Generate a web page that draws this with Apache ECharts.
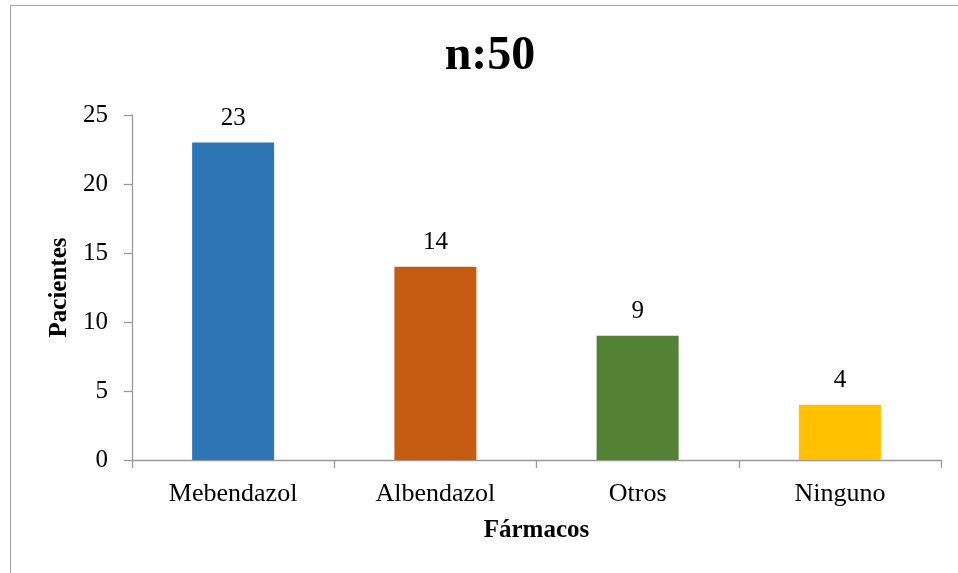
<!DOCTYPE html>
<html>
<head>
<meta charset="utf-8">
<script src="https://cdn.jsdelivr.net/npm/echarts@6/dist/echarts.min.js"></script>
<style>
html,body{margin:0;padding:0;background:#fff;overflow:hidden;}
#frame{position:absolute;left:10px;top:5px;width:980px;height:600px;border:1.5px solid #a6a6a6;box-sizing:border-box;}
#chart{position:absolute;left:0;top:0;width:958px;height:573px;}
</style>
</head>
<body>
<div id="frame"></div>
<div id="chart"></div>
<script>
const categories = ['Mebendazol', 'Albendazol', 'Otros', 'Ninguno'];
const values = [23, 14, 9, 4];
const barColors = ['#2E75B6', '#C55A11', '#548235', '#FFC000'];
const yTicks = [0, 5, 10, 15, 20, 25];

const chart = echarts.init(document.getElementById('chart'), null, {renderer: 'canvas'});
const font = '"Liberation Serif", "Times New Roman", serif';
chart.setOption({
  animation: false,
  title: {
    text: 'n:50',
    left: 485, top: 28,
    textAlign: 'center',
    textStyle: {fontFamily: font, fontWeight: 'bold', fontSize: 48, color: '#000'}
  },
  grid: {left: 132, right: 17, top: 115, bottom: 113, containLabel: false},
  xAxis: {
    type: 'category',
    data: categories,
    name: 'Fármacos',
    nameLocation: 'middle',
    nameGap: 58,
    nameTextStyle: {fontFamily: font, fontWeight: 'bold', fontSize: 25, color: '#000'},
    axisLine: {lineStyle: {color: '#999', width: 1.3}},
    axisTick: {show: true, length: 8, lineStyle: {color: '#999', width: 1.3}},
    axisLabel: {fontFamily: font, fontSize: 26, color: '#000', margin: 21}
  },
  yAxis: {
    type: 'value',
    min: yTicks[0], max: yTicks[yTicks.length - 1], interval: 5,
    name: 'Pacientes',
    nameLocation: 'middle',
    nameGap: 55,
    nameRotate: 90,
    nameTextStyle: {fontFamily: font, fontWeight: 'bold', fontSize: 25, color: '#000'},
    splitLine: {show: false},
    axisLine: {show: true, lineStyle: {color: '#999', width: 1.3}},
    axisTick: {show: true, length: 8, lineStyle: {color: '#999', width: 1.3}},
    axisLabel: {fontFamily: font, fontSize: 25, color: '#000', margin: 24}
  },
  series: [{
    type: 'bar',
    data: values.map((v, i) => ({value: v, itemStyle: {color: barColors[i]}})),
    barWidth: 82,
    label: {show: true, position: 'top', distance: 12, fontFamily: font, fontSize: 25, color: '#000'}
  }]
});
</script>
</body>
</html>
